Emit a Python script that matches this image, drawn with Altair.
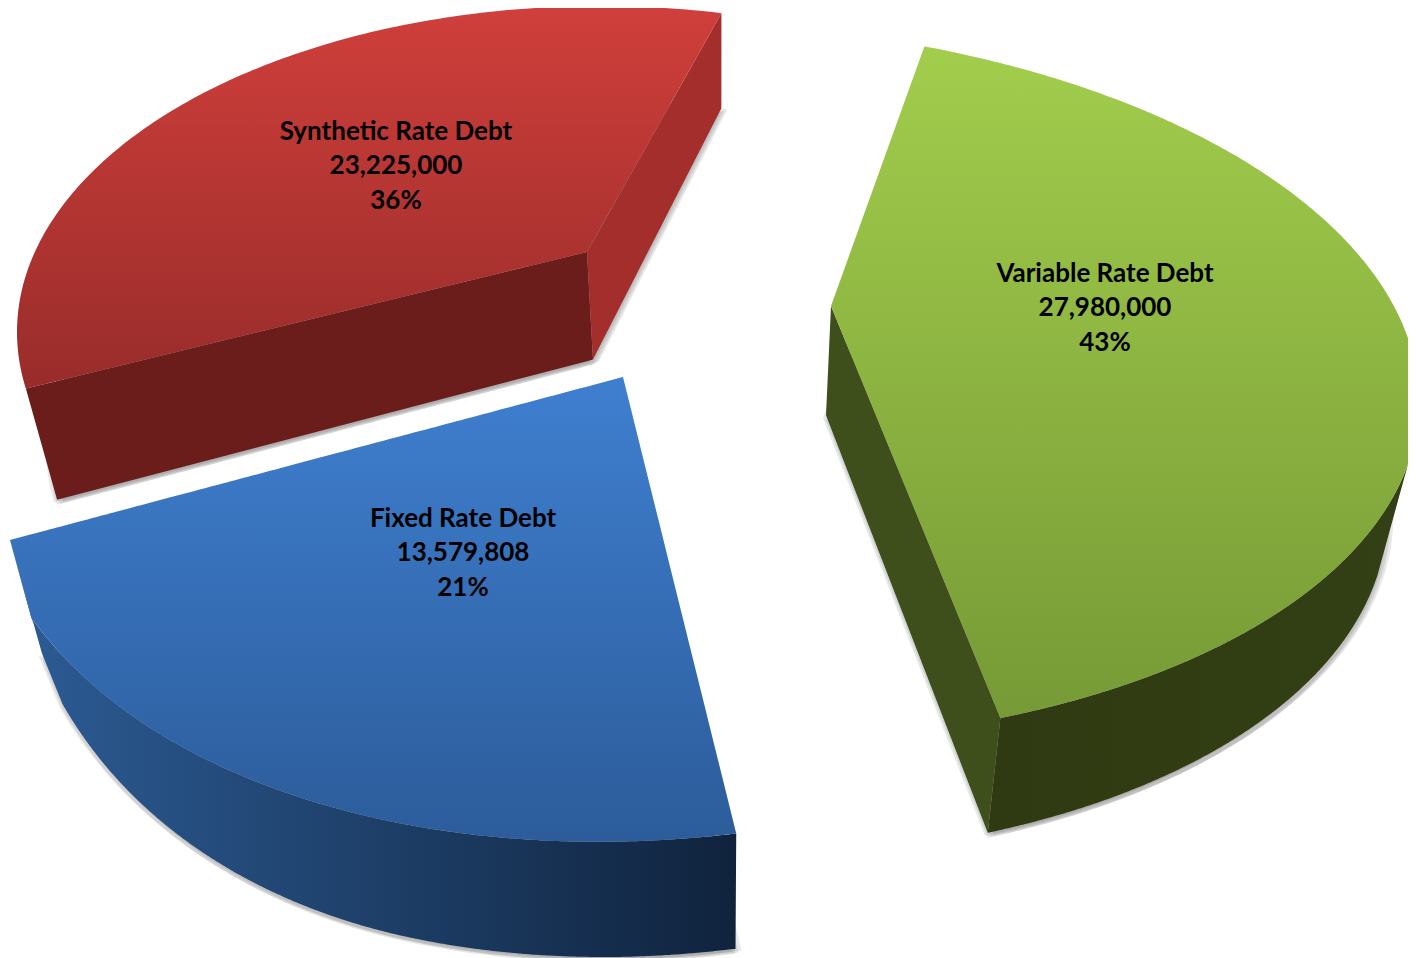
import numpy as np
import pandas as pd
import altair as alt

categories = ["Synthetic Rate Debt", "Fixed Rate Debt", "Variable Rate Debt"]
amounts = [23225000, 13579808, 27980000]
amount_labels = ["23,225,000", "13,579,808", "27,980,000"]
percent_labels = ["36%", "21%", "43%"]

# Layout of the tilted, exploded pie: how each slice's share maps on to the picture.
LAYOUT = {
    "Synthetic Rate Debt": dict(apex=(587, 252), c=(600, 332), r=(583, 326), shear=0, start=170, stretch=0.868,
                                lead=None, taper=None, label=(396, 132), top=("#d03f3b", "#982c2a"),
                                cuts=[(0, "#6b1d1c"), (1, "#a32e2c")], rim=None),
    "Fixed Rate Debt": dict(apex=(623, 377), c=(713, 367), r=(740, 469), shear=-0.1, start=88.2, stretch=0.913,
                            lead=(10, 540), taper=(115, 28), label=(463, 519), top=("#3f7fd0", "#2c5c9a"),
                            cuts=[], rim=("#2c5c95", "#10233d", 88.2)),
    "Variable Rate Debt": dict(apex=(831, 306), c=(710, 383), r=(709, 359), shear=0.026, start=-72.4, stretch=0.889,
                               lead=None, taper=None, label=(1105, 274), top=("#a2cd4c", "#769a36"),
                               cuts=[(1, "#3f4f1c")], rim=("#2f3a12", "#333f14", 10)),
}
SHADOW_STEPS = [(0, 5), (3, 4), (6, 2), (-3, 3)]
X0, Y0, W, H = 8, 8, 1400, 950
shares = np.array(amounts) / sum(amounts)


def drop(p):
    """Bottom edge of the pie's thickness under a point of the top face."""
    p = np.asarray(p, float)
    return np.column_stack([p[:, 0] + 0.045 * (720 - p[:, 0]),
                            p[:, 1] + 93 + 23 * (1 - np.exp(-p[:, 1] / 250))])


def arc(s, a, b, n=160):
    t = np.radians(np.linspace(a, b, n))
    x = s["c"][0] + s["r"][0] * np.cos(t)
    y = s["c"][1] + s["r"][1] * np.sin(t) + s["shear"] * (x - s["c"][0])
    return np.column_stack([x, y])


def lower_arc(s, a, b, n=160):
    """The rim's underside, thinning towards the far end where the slice foreshortens."""
    p = drop(arc(s, a, b, n))
    if s["taper"]:
        t0, amount = s["taper"]
        t = np.linspace(a, b, n)
        p[:, 1] -= amount * (np.clip(t - t0, 0, None) / (b - t0)) ** 2
    if s["lead"]:
        p = np.vstack([p, drop([s["lead"]])])
    return p


def to_band(poly):
    """Turn a closed outline into x / y / y2 rows for an area mark."""
    poly = np.asarray(poly, float)
    nxt = np.roll(poly, -1, axis=0)
    rows = []
    for x in np.unique(np.round(poly[:, 0], 2)):
        ys = []
        for (x1, y1), (x2, y2) in zip(poly, nxt):
            lo, hi = min(x1, x2), max(x1, x2)
            if lo - 0.006 <= x <= hi + 0.006:
                if abs(x2 - x1) < 1e-6:
                    ys += [y1, y2]
                else:
                    ys.append(y1 + (y2 - y1) * (x - x1) / (x2 - x1))
        if ys:
            rows.append(dict(x=x, y=min(ys), y2=max(ys)))
    return pd.DataFrame(rows)


xs = alt.Scale(domain=[X0, X0 + W], range=[0, W], nice=False, zero=False)
ys = alt.Scale(domain=[Y0 + H, Y0], nice=False, zero=False)


def face(poly, fill, opacity=1):
    return alt.Chart(to_band(poly)).mark_area(clip=True, color=fill, opacity=opacity, interpolate="linear").encode(
        x=alt.X("x:Q", scale=xs, axis=None),
        y=alt.Y("y:Q", scale=ys, axis=None),
        y2="y2:Q",
    )


def grad(a, b, horizontal=False):
    return alt.Gradient(gradient="linear", x1=0, y1=0, x2=1 if horizontal else 0, y2=0 if horizontal else 1,
                        stops=[alt.GradientStop(color=a, offset=0), alt.GradientStop(color=b, offset=1)])


layers = []
for name, share in zip(categories, shares):
    s = LAYOUT[name]
    end = s["start"] + share * 360 * s["stretch"]
    rim = arc(s, s["start"], end)
    if s["lead"]:
        rim = np.vstack([rim, [s["lead"]]])
    apex = np.array([s["apex"]], float)
    corners = {0: rim[:1], 1: rim[-1:]}
    under = np.vstack([drop(apex), lower_arc(s, s["start"], end)])
    for dx, dy in SHADOW_STEPS:
        layers.append(face(under + [dx, dy], "#000000", 0.09))
    if s["rim"]:
        a, b, t0 = s["rim"]
        t0 = max(t0, s["start"])
        vis = arc(s, t0, end)
        if s["lead"]:
            vis = np.vstack([vis, [s["lead"]]])
        layers.append(face(np.vstack([vis, lower_arc(s, t0, end)[::-1]]), grad(a, b, True)))
    for idx, col in s["cuts"]:
        edge = np.vstack([apex, corners[idx]])
        layers.append(face(np.vstack([edge, drop(edge)[::-1]]), col))
    layers.append(face(np.vstack([apex, rim]), grad(*s["top"])))

rows = []
for i, name in enumerate(categories):
    x, y = LAYOUT[name]["label"]
    for j, t in enumerate([name, amount_labels[i], percent_labels[i]]):
        rows.append(dict(x=x, y=y + j * 34.3, t=t))
text = alt.Chart(pd.DataFrame(rows)).mark_text(font="Lato", fontWeight="bold", fontSize=26, color="#000000",
                                               align="center", baseline="middle").encode(
    x=alt.X("x:Q", scale=xs, axis=None), y=alt.Y("y:Q", scale=ys, axis=None), text="t:N")

chart = alt.layer(*layers, text).properties(width=W, height=H, padding=0, autosize=alt.AutoSizeParams(type="none"),
                                            background="white").configure_view(stroke=None)
chart.save("out.html", embed_options={"renderer": "svg", "actions": False})
